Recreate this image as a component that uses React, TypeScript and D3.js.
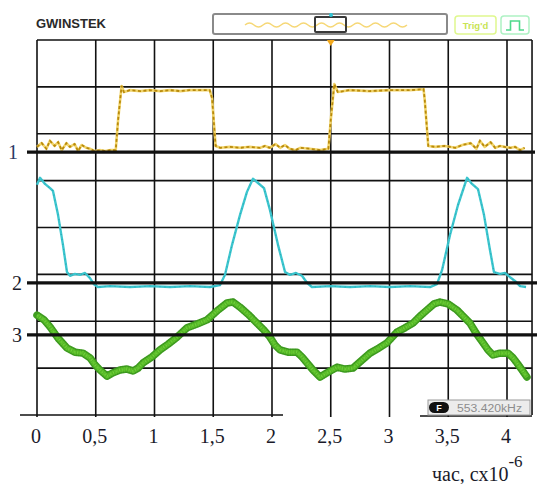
import React from "react";
import * as d3 from "d3";

// ---- data (time in µs, amplitude in screen divisions from centre) ----
const tickValues = [0, 0.5, 1, 1.5, 2, 2.5, 3, 3.5, 4];
const tickLabels = ["0", "0,5", "1", "1,5", "2", "2,5", "3", "3,5", "4"];
const divisionValues = [-3, -2, -1, 0, 1, 2, 3];
const channelLabels = ["1", "2", "3"];
const channelOffsets = [1.61, -1.18, -2.29];
const axisTitle = "час, сх10";
const axisExponent = "-6";
const brand = "GWINSTEK";
const trigText = "Trig'd";
const freqText = "553.420kHz";

const ch1: [number, number][] = [
  [0.0, 1.72], [0.04, 1.8], [0.08, 1.68], [0.11, 1.85], [0.15, 1.74], [0.18, 1.82], [0.21, 1.65],
  [0.25, 1.8], [0.28, 1.72], [0.32, 1.78], [0.35, 1.63], [0.38, 1.76], [0.42, 1.7], [0.45, 1.68],
  [0.49, 1.63], [0.54, 1.65], [0.58, 1.63], [0.62, 1.65], [0.67, 1.65], [0.69, 2.29], [0.72, 3.02],
  [0.74, 2.89], [0.79, 2.93], [0.88, 2.91], [0.96, 2.93], [1.05, 2.91], [1.13, 2.93], [1.22, 2.91],
  [1.3, 2.93], [1.39, 2.93], [1.47, 2.93], [1.49, 2.76], [1.52, 1.74], [1.56, 1.7], [1.64, 1.72],
  [1.73, 1.7], [1.81, 1.72], [1.9, 1.7], [1.94, 1.74], [1.98, 1.7], [2.03, 1.78], [2.07, 1.7],
  [2.11, 1.76], [2.15, 1.68], [2.2, 1.65], [2.24, 1.7], [2.32, 1.68], [2.41, 1.65], [2.48, 1.68],
  [2.5, 2.29], [2.53, 3.06], [2.56, 2.89], [2.66, 2.93], [2.83, 2.91], [3.0, 2.93], [3.17, 2.93],
  [3.29, 2.95], [3.3, 2.72], [3.33, 1.74], [3.39, 1.72], [3.47, 1.74], [3.56, 1.7], [3.62, 1.76],
  [3.69, 1.8], [3.74, 1.68], [3.77, 1.85], [3.81, 1.72], [3.86, 1.82], [3.9, 1.7], [3.94, 1.74],
  [3.98, 1.72], [4.03, 1.7], [4.07, 1.72], [4.11, 1.65], [4.15, 1.7],
];

const ch2: [number, number][] = [
  [0.0, 0.91], [0.026, 1.06], [0.068, 0.93], [0.111, 0.84], [0.136, 0.78], [0.179, 0.27],
  [0.221, -0.37], [0.255, -0.95], [0.281, -1.03], [0.323, -0.99], [0.366, -1.01], [0.409, -0.97],
  [0.451, -1.08], [0.485, -1.21], [0.519, -1.27], [0.621, -1.25], [0.791, -1.27], [0.962, -1.25],
  [1.132, -1.27], [1.302, -1.25], [1.472, -1.27], [1.557, -1.23], [1.6, -1.01], [1.66, -0.37],
  [1.728, 0.27], [1.787, 0.76], [1.838, 1.04], [1.881, 0.95], [1.932, 0.84], [1.983, 0.37],
  [2.051, -0.37], [2.111, -0.95], [2.153, -1.01], [2.204, -0.97], [2.255, -1.03], [2.298, -1.18],
  [2.34, -1.27], [2.494, -1.25], [2.664, -1.27], [2.834, -1.25], [3.004, -1.27], [3.174, -1.25],
  [3.345, -1.27], [3.404, -1.21], [3.447, -0.91], [3.515, -0.16], [3.583, 0.48], [3.66, 1.06],
  [3.702, 0.93], [3.753, 0.82], [3.804, 0.27], [3.855, -0.48], [3.889, -0.95], [3.94, -0.99],
  [3.983, -0.97], [4.026, -1.06], [4.068, -1.14], [4.111, -1.25], [4.162, -1.27],
];

const ch3: [number, number][] = [
  [0.0, -1.87], [0.06, -1.97], [0.111, -2.12], [0.179, -2.36], [0.255, -2.57], [0.323, -2.66],
  [0.391, -2.68], [0.451, -2.78], [0.494, -2.93], [0.536, -3.04], [0.596, -3.17], [0.647, -3.1],
  [0.706, -3.04], [0.766, -3.02], [0.817, -3.06], [0.86, -3.0], [0.902, -2.89], [0.979, -2.76],
  [1.047, -2.61], [1.115, -2.49], [1.191, -2.34], [1.277, -2.14], [1.362, -2.06], [1.447, -1.97],
  [1.532, -1.78], [1.617, -1.61], [1.668, -1.59], [1.728, -1.7], [1.796, -1.85], [1.872, -2.04],
  [1.932, -2.19], [1.983, -2.34], [2.026, -2.51], [2.068, -2.61], [2.136, -2.66], [2.213, -2.66],
  [2.255, -2.76], [2.298, -2.89], [2.349, -3.04], [2.409, -3.19], [2.468, -3.1], [2.553, -2.98],
  [2.621, -3.02], [2.689, -3.0], [2.766, -2.83], [2.834, -2.68], [2.911, -2.57], [2.979, -2.46],
  [3.064, -2.23], [3.132, -2.14], [3.2, -2.04], [3.26, -1.89], [3.319, -1.76], [3.379, -1.63],
  [3.43, -1.59], [3.498, -1.63], [3.574, -1.76], [3.626, -1.89], [3.685, -2.04], [3.736, -2.25],
  [3.796, -2.46], [3.838, -2.61], [3.88, -2.72], [3.94, -2.68], [4.009, -2.68], [4.051, -2.78],
  [4.085, -2.89], [4.128, -3.04], [4.17, -3.19],
];

const W = 537;
const H = 484;
const tMax = 4.213;

export default function App() {
  const x = d3.scaleLinear().domain([0, 4]).range([37, 507]);
  const y = d3.scaleLinear().domain([-4, 4]).range([415, 40]);
  const line = d3
    .line<[number, number]>()
    .x((d) => x(d[0]))
    .y((d) => y(d[1]))
    .curve(d3.curveLinear);

  const serif = "'Liberation Serif', 'Times New Roman', serif";
  const sans = "'Liberation Sans', Arial, sans-serif";
  const ink = "#111";

  // mini sine in the header memory bar (decorative icon)
  let sine = "M245,25";
  for (let i = 0; i < 9; i++) {
    const sx = 245 + i * 18;
    sine += ` Q${sx + 4.5},${21} ${sx + 9},25 Q${sx + 13.5},${29} ${sx + 18},25`;
  }

  const ch = channelOffsets.map((v) => y(v));
  const p1 = line(ch1) || "";
  const p2 = line(ch2) || "";
  const p3 = line(ch3) || "";

  return (
    <svg
      width={W}
      height={H}
      style={{ position: "absolute", left: 0, top: 0, background: "#fff" }}
      xmlns="http://www.w3.org/2000/svg"
    >
      <rect width={W} height={H} fill="#fff" />

      {/* header */}
      <text x={36} y={27.5} fontFamily={sans} fontWeight={700} fontSize={12} fill="#2a2a2a" textLength={70} lengthAdjust="spacingAndGlyphs">
        {brand}
      </text>
      <rect x={213} y={14} width={234} height={20} rx={2} fill="#fff" stroke="#8a8a8a" strokeWidth={2} />
      <path d={sine} fill="none" stroke="#f6d878" strokeWidth={1.4} />
      <rect x={315} y={17} width={31} height={15} rx={1} fill="none" stroke="#3a3a3a" strokeWidth={2} />
      <circle cx={331} cy={15} r={2} fill="#2fc6d6" />
      <rect x={455} y={16} width={41} height={18} rx={3} fill="#fff" stroke="#dff88e" strokeWidth={1.5} />
      <text x={475.5} y={29} textAnchor="middle" fontFamily={sans} fontWeight={700} fontSize={9.5} fill="#c8e455">
        {trigText}
      </text>
      <rect x={501} y={16} width={28} height={18} rx={3} fill="#fff" stroke="#aef2c4" strokeWidth={1.5} />
      <path d="M506,30 H510.5 V21 H519.5 V30 H524" fill="none" stroke="#4ed98a" strokeWidth={1.6} />

      {/* grid */}
      <g stroke={ink} strokeWidth={1.6}>
        {tickValues.map((t, i) => (
          <line key={"v" + i} x1={x(t)} x2={x(t)} y1={y(4)} y2={y(-4) + 2} />
        ))}
        <line x1={x(tMax)} x2={x(tMax)} y1={y(4)} y2={y(-4)} />
        {divisionValues.map((v) => (
          <line key={"h" + v} x1={x(0)} x2={x(tMax)} y1={y(v)} y2={y(v)} />
        ))}
        <line x1={x(0)} x2={x(tMax)} y1={y(4)} y2={y(4)} />
        <line x1={20} x2={283} y1={y(-4)} y2={y(-4)} />
        <line x1={420} x2={x(tMax)} y1={y(-4) + 1} y2={y(-4) + 1} />
      </g>

      {/* trigger marker */}
      <path d={`M${x(2.5) - 4},${y(4)} L${x(2.5) + 4},${y(4)} L${x(2.5)},${y(4) + 6} Z`} fill="#f2a81c" />

      {/* channel 1 – yellow */}
      <path d={p1} fill="none" stroke="#f1d46a" strokeWidth={2.6} strokeLinejoin="round" />
      <path d={p1} fill="none" stroke="#b8890c" strokeWidth={1.8} strokeDasharray="3 2.5" />

      {/* channel 2 – cyan */}
      <path d={p2} fill="none" stroke="#3cc6cf" strokeWidth={2.4} strokeLinejoin="round" />
      <path d={p2} fill="none" stroke="#1f9aa3" strokeWidth={1.2} strokeDasharray="1 4" opacity={0.6} />

      {/* channel 3 – green */}
      <path d={p3} fill="none" stroke="#3f9e20" strokeWidth={7.5} strokeLinejoin="round" strokeLinecap="round" />
      <path d={p3} fill="none" stroke="#5fc32c" strokeWidth={4.5} strokeLinejoin="round" />
      <path d={p3} fill="none" stroke="#2f7a16" strokeWidth={7.5} strokeDasharray="0.7 1.6" opacity={0.3} />
      <path d={p3} fill="none" stroke="#7ddc48" strokeWidth={2} strokeDasharray="1 2.3" opacity={0.6} />

      {/* channel reference lines */}
      <g stroke={ink} strokeWidth={3.2}>
        <line x1={27} x2={535} y1={ch[0]} y2={ch[0]} />
        <line x1={27} x2={537} y1={ch[1]} y2={ch[1]} />
        <line x1={27} x2={537} y1={ch[2]} y2={ch[2]} />
      </g>
      {channelLabels.map((l, i) => (
        <text
          key={"c" + l}
          x={i === 0 ? 13 : 17}
          y={ch[i] + 7}
          textAnchor="middle"
          fontFamily={serif}
          fontSize={20}
          fill={i === 0 ? "#2b3a66" : "#1a1a2a"}
        >
          {l}
        </text>
      ))}

      {/* frequency badge */}
      <rect x={428} y={400} width={102} height={15} fill="#ececec" stroke="#9a9a9a" strokeWidth={1} />
      <rect x={429} y={402} width={20} height={11} rx={5.5} fill="#111" />
      <text x={439} y={411} textAnchor="middle" fontFamily={sans} fontWeight={700} fontSize={9} fill="#fff">
        F
      </text>
      <text x={457} y={411.5} fontFamily={sans} fontSize={10} fill="#8c8c8c" textLength={65} lengthAdjust="spacingAndGlyphs">
        {freqText}
      </text>

      {/* x tick labels */}
      {tickValues.map((t, i) => (
        <text key={"t" + i} x={x(t) - 1} y={443} textAnchor="middle" fontFamily={serif} fontSize={20} fill="#1a1a2a">
          {tickLabels[i]}
        </text>
      ))}

      {/* axis title */}
      <text x={432} y={481} fontFamily={serif} fontSize={20} fill="#1a1a2a">
        {axisTitle}
        <tspan dy={-14} fontSize={17}>
          {axisExponent}
        </tspan>
      </text>
    </svg>
  );
}
